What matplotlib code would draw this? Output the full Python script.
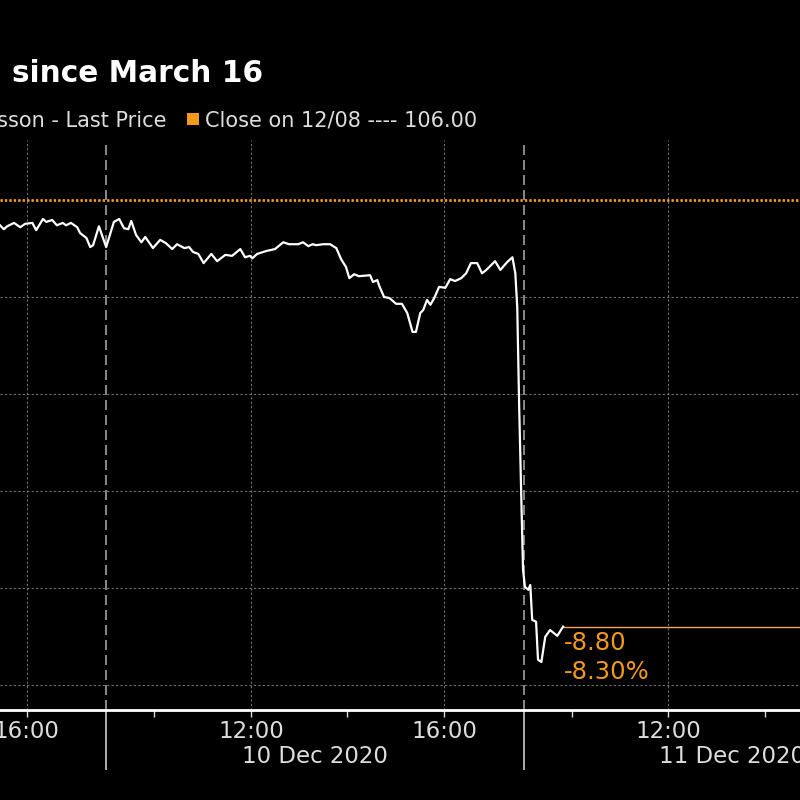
import matplotlib
matplotlib.use('Agg')
import matplotlib.pyplot as plt
from matplotlib.patches import Rectangle

plt.rcParams['font.family'] = ['DejaVu Sans']

# trading-hour axis: 0 = 10 Dec 09:00, one session is about 8.65 h wide
SESSION = 8.65

t_hours = [-2.20, -2.12, -2.05, -1.91, -1.78, -1.68, -1.53, -1.45, -1.31, -1.24,
           -1.12, -1.02, -0.90, -0.83, -0.73, -0.60, -0.54, -0.41, -0.33, -0.27,
           -0.15, 0.00, 0.16, 0.27, 0.37, 0.46, 0.52, 0.62, 0.73, 0.81,
           0.97, 1.12, 1.24, 1.37, 1.47, 1.62, 1.72, 1.80, 1.91, 2.02,
           2.18, 2.30, 2.47, 2.61, 2.78, 2.88, 2.98, 3.03, 3.13, 3.32,
           3.50, 3.67, 3.79, 3.98, 4.08, 4.19, 4.28, 4.35, 4.50, 4.64,
           4.77, 4.87, 4.97, 5.04, 5.14, 5.24, 5.47, 5.53, 5.62, 5.66,
           5.76, 5.87, 6.01, 6.13, 6.24, 6.35, 6.42, 6.51, 6.57, 6.65,
           6.72, 6.80, 6.90, 7.03, 7.13, 7.23, 7.36, 7.46, 7.56, 7.69,
           7.79, 7.88, 8.06, 8.17, 8.31, 8.42, 8.48, 8.52, 8.56, 8.60,
           8.64, 8.68, 8.75, 8.79, 8.83, 8.91, 8.95, 9.02, 9.10, 9.20,
           9.35, 9.47]
price = [105.48, 105.40, 105.46, 105.53, 105.44, 105.51, 105.53, 105.38, 105.61, 105.55,
         105.59, 105.48, 105.53, 105.48, 105.53, 105.44, 105.32, 105.22, 105.03, 105.07,
         105.46, 105.03, 105.55, 105.61, 105.42, 105.40, 105.57, 105.28, 105.13, 105.24,
         105.01, 105.18, 105.11, 104.99, 105.09, 105.01, 105.03, 104.93, 104.89, 104.70,
         104.89, 104.74, 104.87, 104.85, 104.99, 104.82, 104.85, 104.80, 104.89, 104.95,
         104.99, 105.13, 105.09, 105.09, 105.13, 105.05, 105.09, 105.07, 105.09, 105.09,
         105.01, 104.78, 104.62, 104.39, 104.47, 104.43, 104.45, 104.31, 104.35, 104.23,
         104.00, 103.98, 103.86, 103.86, 103.67, 103.28, 103.28, 103.67, 103.73, 103.94,
         103.84, 103.98, 104.21, 104.19, 104.37, 104.33, 104.39, 104.49, 104.70, 104.70,
         104.49, 104.56, 104.74, 104.56, 104.72, 104.82, 104.49, 103.79, 101.73, 100.02,
         98.37, 98.02, 97.96, 98.06, 97.34, 97.30, 96.52, 96.47, 96.99, 97.13,
         97.01, 97.20]

close_prev = 106.00
y_grid = [96, 98, 100, 102, 104, 106]
major_ticks = [7 - SESSION, 3, 7, SESSION + 3]
major_labels = ['16:00', '12:00', '16:00', '12:00']
minor_ticks = [1, 5, SESSION + 1, SESSION + 5]
day_breaks = [0, SESSION]
day_labels = ['10 Dec 2020', '11 Dec 2020']
day_centers = [SESSION / 2, SESSION * 1.5]

orange = '#f39a1c'
last = price[-1]
chg = last - close_prev
pct = chg / close_prev * 100

fig = plt.figure(figsize=(8, 8), dpi=100, facecolor='black')
ax = fig.add_axes([0, 90 / 800, 1, 570 / 800])
ax.set_facecolor('black')
ax.set_xlim(-2.2, 14.38)
ax.set_ylim(95.48, 107.24)

for g in y_grid:
    ax.axhline(g, color='#707070', lw=0.8, ls=(0, (2, 2)), zorder=1)
for t in major_ticks:
    ax.axvline(t, color='#707070', lw=0.8, ls=(0, (2, 2)), zorder=1)
for t in day_breaks:
    ax.axvline(t, color='#a0a0a0', lw=1.2, ls=(0, (6, 3)), zorder=1)

ax.axhline(close_prev, color=orange, lw=2, ls=(0, (0.8, 0.8)), zorder=2)
ax.plot(t_hours, price, color='white', lw=1.6, zorder=3)
ax.hlines(last, t_hours[-1], 14.38, color='#f5a560', lw=1.0, zorder=2)

ax.annotate(f'{chg:.2f}', xy=(t_hours[-1], last), xytext=(1, -4), textcoords='offset pixels',
            color=orange, fontsize=17.5, ha='left', va='top')
ax.annotate(f'{pct:.2f}%', xy=(t_hours[-1], last), xytext=(1, -33), textcoords='offset pixels',
            color=orange, fontsize=17.5, ha='left', va='top')

for s in ['top', 'left', 'right']:
    ax.spines[s].set_visible(False)
ax.spines['bottom'].set_color('white')
ax.spines['bottom'].set_linewidth(2)
ax.set_yticks([])
ax.set_xticks(major_ticks)
ax.set_xticklabels(major_labels)
ax.set_xticks(minor_ticks, minor=True)
ax.tick_params(axis='x', which='both', colors='#dddddd', length=5, width=1, pad=2, labelsize=16.5)

ax.vlines(day_breaks, -0.105, 0, transform=ax.get_xaxis_transform(), color='#cccccc', lw=1.2, clip_on=False)
for c, lab in zip(day_centers, day_labels):
    ax.text(c, -0.082, lab, transform=ax.get_xaxis_transform(), color='#dddddd', fontsize=16.5,
            ha='center', va='center', clip_on=False)

fig.text(12 / 800, 1 - 82 / 800, 'since March 16', color='white', fontsize=21.3, fontweight='bold',
         ha='left', va='baseline')
fig.text(166 / 800, 1 - 127 / 800, 'Ericsson - Last Price', color='#dddddd', fontsize=15,
         ha='right', va='baseline')
fig.patches.append(Rectangle((187 / 800, 1 - 125 / 800), 12 / 800, 12 / 800, transform=fig.transFigure,
                             facecolor=orange, edgecolor='none'))
fig.text(205 / 800, 1 - 127 / 800, 'Close on 12/08 ---- 106.00', color='#dddddd', fontsize=15,
         ha='left', va='baseline')

fig.savefig('out.png', dpi=100, facecolor='black')
